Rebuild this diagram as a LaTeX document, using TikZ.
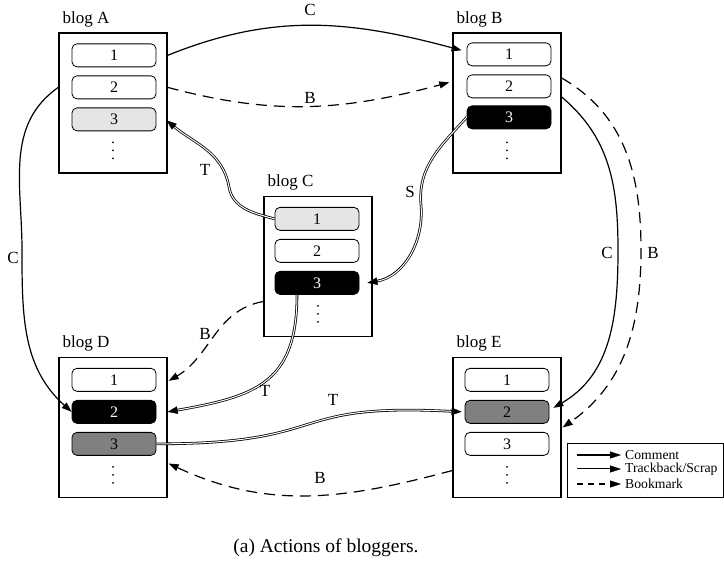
\documentclass[tikz,border=0pt]{standalone}
\usepackage{fontspec}
\setmainfont{Liberation Serif}
\usetikzlibrary{arrows.meta,calc}
\begin{document}
\begin{tikzpicture}[x=1pt,y=-1pt,
  blog/.style={draw, line width=1.3pt, minimum width=108pt, minimum height=140pt, inner sep=0pt},
  post/.style={draw, rounded corners=5pt, line width=0.8pt, minimum width=84pt, minimum height=23pt, inner sep=0pt, font=\fontsize{16}{16}\selectfont},
  lightpost/.style={post, fill=black!10},
  darkpost/.style={post, fill=black!50},
  blackpost/.style={post, fill=black, text=white},
  blogname/.style={anchor=south west, inner sep=0pt, font=\fontsize{17}{17}\selectfont},
  lbl/.style={font=\fontsize{17}{17}\selectfont, inner sep=1pt},
  arrtip/.style={-{Triangle[length=10pt,width=7pt]}},
  cmt/.style={line width=1.2pt, arrtip},
  bmk/.style={line width=1.2pt, dash pattern=on 11pt off 7pt, arrtip},
  tbk/.style={line width=2.6pt, -{Triangle[length=10pt,width=7.5pt,line width=0.4pt]},
              postaction={draw=white, line width=1.0pt, -, shorten >=10.5pt}},
  legtip/.style={-{Triangle[length=11pt,width=7pt,line width=0.4pt]}},
  dotc/.style={fill=black, circle, inner sep=0pt, minimum size=2.2pt},
  legtext/.style={anchor=west, inner sep=0pt, font=\fontsize{13.7}{13.7}\selectfont}
]
\useasboundingbox (0,0) rectangle (724,582);

% blogs
\foreach \n/\x/\y in {A/113/103, B/507/103, C/318/266.5, D/113/427.5, E/507/427.5}{
  \node[blog] (\n) at (\x,\y) {};
  \node[blogname] (\n name) at ($(\n.north west)+(4,-5)$) {blog \n};
  \node[dotc] (\n d1) at ($(\n.north)+(0,110)$) {};
  \node[dotc] (\n d2) at ($(\n.north)+(0,118)$) {};
  \node[dotc] (\n d3) at ($(\n.north)+(0,126)$) {};
}
% posts
\node[post] (A1) at ($(A.north)+(1,23)$) {1};
\node[post] (A2) at ($(A.north)+(1,55)$) {2};
\node[lightpost] (A3) at ($(A.north)+(1,87)$) {3};
\node[post] (B1) at ($(B.north)+(2,22)$) {1};
\node[post] (B2) at ($(B.north)+(2,54)$) {2};
\node[blackpost] (B3) at ($(B.north)+(2,85)$) {3};
\node[lightpost] (C1) at ($(C.north)+(-1,23)$) {1};
\node[post] (C2) at ($(C.north)+(-1,55)$) {2};
\node[blackpost] (C3) at ($(C.north)+(-1,87)$) {3};
\node[post] (D1) at ($(D.north)+(1,23)$) {1};
\node[blackpost] (D2) at ($(D.north)+(1,55)$) {2};
\node[darkpost] (D3) at ($(D.north)+(1,87)$) {3};
\node[post] (E1) at ($(E.north)+(0,23)$) {1};
\node[darkpost] (E2) at ($(E.north)+(0,55)$) {2};
\node[post] (E3) at ($(E.north)+(0,87)$) {3};

% connectors
\draw[cmt] (A.east|-A1) to[out=22,in=165] ($(B1.west)+(-5,-4)$);
\draw[bmk] (A.east|-A2) to[out=-15,in=195] ($(B.west|-B2)+(-3,-4)$);
\draw[tbk] (C1.west) to[out=165,in=-80] (229,187) to[out=100,in=-40] ($(A.east|-A3)+(-1,1)$);
\draw[tbk] (B3.west) to[out=228,in=95] (421,205) to[out=-85,in=10] ($(C3.east)+(8,0)$);
\draw[cmt] (A.west|-A2) to[out=215,in=90] (22,250) to[out=-90,in=138] (D2.west);
\draw[cmt] ($(B.east)+(0,-6)$) to[out=-40,in=90] (618,250) to[out=-90,in=30] ($(E2.east)+(4,-4)$);
\draw[bmk] ($(B.east)+(0,-25)$) to[out=-30,in=90] (641,250) to[out=-90,in=35] ($(E.east)+(1,0)$);
\draw[bmk] ($(C.west)+(0,35)$) to[out=190,in=30] ($(D.east|-D1)+(1,1)$);
\draw[tbk] ($(C3.south)+(-20,0)$) to[out=-90,in=10,looseness=1.3] (D.east|-D2);
\draw[tbk] (D3.east) to[out=0,in=177,looseness=1.5] ($(E2.west)+(-3,0)$);
\draw[bmk] ($(E.west)+(0,43)$) to[out=195,in=-25] ($(D.east)+(1,36)$);

% labels
\node[lbl] (l1) at (310,10) {C};
\node[lbl] (l2) at (310,98) {B};
\node[lbl] (l3) at (205,170) {T};
\node[lbl] (l4) at (410,192) {S};
\node[lbl] (l5) at (13,258) {C};
\node[lbl] (l6) at (607,253) {C};
\node[lbl] (l7) at (653,253) {B};
\node[lbl] (l8) at (205,334) {B};
\node[lbl] (l9) at (265,391) {T};
\node[lbl] (l10) at (333,400) {T};
\node[lbl] (l11) at (320,478) {B};

% legend
\node[draw, line width=0.8pt, minimum width=156pt, minimum height=54pt, inner sep=0pt] (leg) at (645.5,470) {};
\coordinate (c1s) at (577,455); \coordinate (c1e) at (621,455);
\coordinate (c2s) at (577,469); \coordinate (c2e) at (621,469);
\coordinate (c3s) at (577,484); \coordinate (c3e) at (621,484);
\draw[line width=1.2pt, legtip] (c1s) -- (c1e);
\draw[line width=2.6pt, legtip, postaction={draw=white, line width=1.0pt, -, shorten >=11.5pt}] (c2s) -- (c2e);
\draw[line width=1.2pt, dash pattern=on 6pt off 5pt, legtip] (c3s) -- (c3e);
\node[legtext] (t1) at (625,455) {Comment};
\node[legtext] (t2) at (625,469) {Trackback/Scrap};
\node[legtext] (t3) at (625,484) {Bookmark};

% caption
\node[font=\fontsize{19.5}{19.5}\selectfont] (cap) at (326,548) {(a) Actions of bloggers.};
\end{tikzpicture}
\end{document}
